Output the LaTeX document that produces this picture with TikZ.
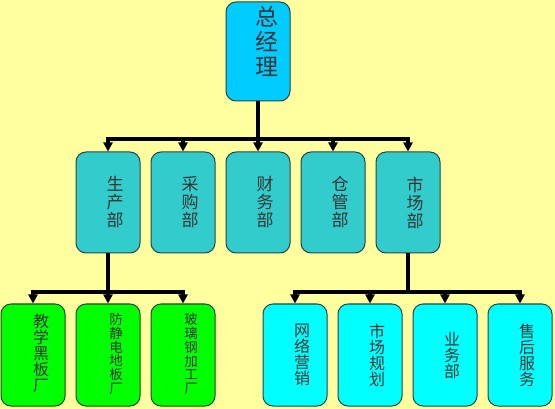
\documentclass[tikz,border=0pt]{standalone}
\usepackage{fontspec}
\newfontfamily\cjk{Noto Sans CJK SC}
\usetikzlibrary{arrows.meta}
\definecolor{bg}{HTML}{FFFFA0}
\definecolor{topc}{HTML}{00CCFF}
\definecolor{midc}{HTML}{33CCCC}
\definecolor{grnc}{HTML}{00FF00}
\definecolor{cyac}{HTML}{00FFFF}
\definecolor{bord}{HTML}{264545}
\definecolor{gbord}{HTML}{1F4A1F}
\tikzset{
  box/.style={draw=bord, line width=1pt, rounded corners=10pt, minimum width=64pt, inner sep=0pt},
  topbox/.style={box, fill=topc, minimum height=99pt},
  midbox/.style={box, fill=midc, minimum height=101pt},
  grnbox/.style={box, draw=gbord, fill=grnc, minimum height=102pt},
  cyabox/.style={box, fill=cyac, minimum height=102pt},
  bigtxt/.style={font=\cjk\fontsize{23}{25}\selectfont, align=center, inner sep=0pt, text=black!80},
  midtxt/.style={font=\cjk\fontsize{17}{18}\selectfont, align=center, inner sep=0pt, text=black!80},
  smltxt/.style={font=\cjk\fontsize{16}{16}\selectfont, align=center, inner sep=0pt, text=black!80},
  tnytxt/.style={font=\cjk\fontsize{13.5}{13.7}\selectfont, align=center, inner sep=0pt, text=black!80},
  wire/.style={line width=3.3pt, black},
  arr/.style={line width=3.3pt, black, -{Triangle[width=9pt,length=9pt]}}
}
\begin{document}
\begin{tikzpicture}[x=1pt,y=-1pt]
\fill[bg] (0,0) rectangle (555,409);
\useasboundingbox (0,0) rectangle (555,409);

% top
\node[topbox] (top) at (258,51.5) {};
\node[bigtxt] (ttop) at ([xshift=9pt,yshift=10pt]top.center) {总\\经\\理};

% middle
\node[midbox] (m1) at (108,202.5) {};
\node[midbox] (m2) at (183,202.5) {};
\node[midbox] (m3) at (258,202.5) {};
\node[midbox] (m4) at (333,202.5) {};
\node[midbox] (m5) at (408,202.5) {};
\node[midtxt] (tm1) at ([xshift=7pt]m1.center) {生\\产\\部};
\node[midtxt] (tm2) at ([xshift=7pt]m2.center) {采\\购\\部};
\node[midtxt] (tm3) at ([xshift=7pt]m3.center) {财\\务\\部};
\node[midtxt] (tm4) at ([xshift=7pt]m4.center) {仓\\管\\部};
\node[midtxt] (tm5) at ([xshift=7pt]m5.center) {市\\场\\部};

% bottom left
\node[grnbox] (g1) at (33,355) {};
\node[grnbox] (g2) at (108,355) {};
\node[grnbox] (g3) at (183,355) {};
\node[smltxt] (tg1) at ([xshift=8pt,yshift=2pt]g1.center) {教\\学\\黑\\板\\厂};
\node[tnytxt] (tg2) at ([xshift=8pt,yshift=1pt]g2.center) {防\\静\\电\\地\\板\\厂};
\node[tnytxt] (tg3) at ([xshift=8pt,yshift=1pt]g3.center) {玻\\璃\\钢\\加\\工\\厂};

% bottom right
\node[cyabox] (c1) at (295,355) {};
\node[cyabox] (c2) at (370,355) {};
\node[cyabox] (c3) at (445,355) {};
\node[cyabox] (c4) at (520,355) {};
\node[smltxt] (tc1) at ([xshift=7pt]c1.center) {网\\络\\营\\销};
\node[smltxt] (tc2) at ([xshift=7pt]c2.center) {市\\场\\规\\划};
\node[smltxt] (tc3) at ([xshift=7pt]c3.center) {业\\务\\部};
\node[smltxt] (tc4) at ([xshift=7pt]c4.center) {售\\后\\服\\务};

% connectors
\coordinate (bus1) at (258,139);
\coordinate (bus2) at (108,292);
\coordinate (bus3) at (408,292);
\draw[wire] (top.south) -- (bus1);
\draw[wire] ([xshift=-1.65pt]m1.north |- bus1) -- ([xshift=1.65pt]m5.north |- bus1);
\foreach \n in {m1,m2,m3,m4,m5} \draw[arr] (\n.north |- bus1) -- (\n.north);

\draw[wire] (m1.south) -- (bus2);
\draw[wire] ([xshift=-1.65pt]g1.north |- bus2) -- ([xshift=1.65pt]g3.north |- bus2);
\foreach \n in {g1,g2,g3} \draw[arr] (\n.north |- bus2) -- (\n.north);

\draw[wire] (m5.south) -- (bus3);
\draw[wire] ([xshift=-1.65pt]c1.north |- bus3) -- ([xshift=1.65pt]c4.north |- bus3);
\foreach \n in {c1,c2,c3,c4} \draw[arr] (\n.north |- bus3) -- (\n.north);
\end{tikzpicture}
\end{document}
